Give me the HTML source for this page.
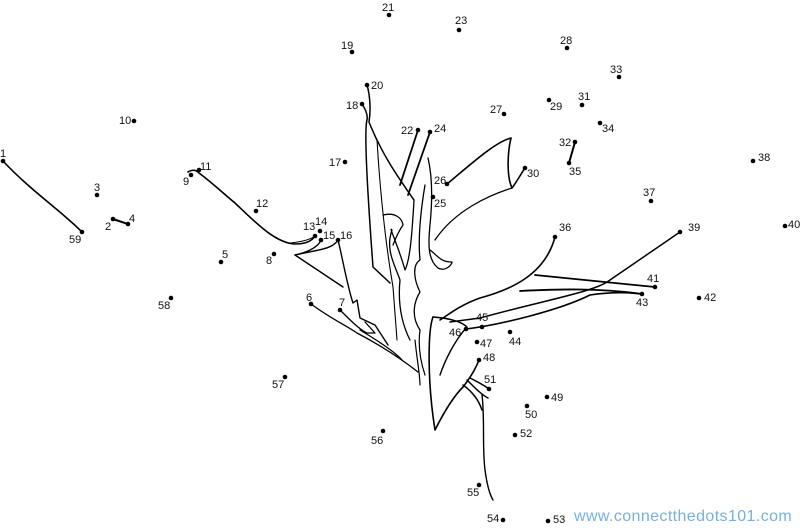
<!DOCTYPE html>
<html><head><meta charset="utf-8"><style>
html,body{margin:0;padding:0;background:#fff}
svg text{font-family:"Liberation Sans",sans-serif;font-size:11px;fill:#111}
</style></head><body>
<svg width="800" height="526" viewBox="0 0 800 526" xmlns="http://www.w3.org/2000/svg">
<g fill="none" stroke="#000" stroke-linecap="round" stroke-linejoin="round">
<path d="M3,161 C30,190 60,210 82,232" stroke-width="1.6"/>
<path d="M113,219 L128,224" stroke-width="2"/>
<path d="M575,142 L569,163" stroke-width="2"/>
<path d="M188,172 C195,168 198,172 199,173 C215,185 225,195 235,203 C255,222 275,243 295,244 C305,244 312,241 315,236" stroke-width="1.6"/>
<path d="M290,243 C300,242 310,240 315,236" stroke-width="1"/>
<path d="M295,255 C305,253 318,248 321,240" stroke-width="1.4"/>
<path d="M295,255 C315,250 332,250 338,240" stroke-width="1.4"/>
<path d="M295,255 L343,287" stroke-width="1.4"/>
<path d="M338,240 C343,260 347,285 353,303 L357,300 L360,318 L375,325 L388,345" stroke-width="1.4"/>
<path d="M311,304 C330,318 345,325 357,333 C380,345 400,358 418,372" stroke-width="1.3"/>
<path d="M340,310 C350,320 360,330 367,333 L375,333 L365,322 M360,330 C380,342 395,352 402,360" stroke-width="1.3"/>
<path d="M362,104 C366,110 368,115 367,120 C364,130 368,200 373,267 L390,283" stroke-width="1.5"/>
<path d="M367,85 C370,95 371,110 369,122 C382,155 400,180 414,200" stroke-width="1.5"/>
<path d="M377,140 C380,190 385,240 393,287 L397,340" stroke-width="1.1"/>
<path d="M418,130 L400,185 M430,132 L408,195" stroke-width="1.8"/>
<path d="M414,200 C412,235 410,260 405,270 C398,245 388,225 392,230 C385,250 395,265 400,280 C398,300 400,320 410,340" stroke-width="1.3"/>
<path d="M428,158 C432,175 433,195 430,225 C428,245 428,260 438,268 C445,272 452,265 452,262 C440,262 437,255 430,250 M425,185 C420,215 418,240 420,260 C412,265 414,280 420,292 C415,300 410,315 420,330" stroke-width="1.3"/>
<path d="M383,215 C395,212 402,218 403,225 C398,232 395,240 393,245" stroke-width="1.3"/>
<path d="M447,184 C470,165 495,142 511,138 C508,150 506,175 512,188 C518,180 522,172 525,168" stroke-width="1.6"/>
<path d="M512,188 C490,195 455,210 435,240" stroke-width="1.3"/>
<path d="M555,237 C545,275 510,290 480,298 C460,305 448,315 440,320" stroke-width="1.6"/>
<path d="M535,275 L655,287" stroke-width="1.8"/>
<path d="M520,291 C560,289 600,288 642,294" stroke-width="1.8"/>
<path d="M680,232 L610,280 C595,292 545,300 480,318 L450,322" stroke-width="1.5"/>
<path d="M466,329 C500,325 560,310 590,295 C610,292 625,292 642,294" stroke-width="1.6"/>
<path d="M433,317 C428,330 427,380 435,430 C445,410 455,395 463,387 C470,378 476,368 479,360" stroke-width="1.6"/>
<path d="M433,317 C445,318 460,320 467,327 C455,340 445,360 440,375" stroke-width="1.4"/>
<path d="M420,330 C418,345 420,360 425,375 M415,340 C417,360 420,375 420,385" stroke-width="1.2"/>
<path d="M463,385 C470,390 478,398 482,410 M467,380 C475,388 482,395 488,398 M470,378 C478,382 485,386 489,389" stroke-width="1.5"/>
<path d="M482,395 C485,420 482,445 485,470 C487,485 490,495 493,500" stroke-width="1.4"/>
</g>
<g fill="#000">
<circle cx="3" cy="161" r="2.3"/><circle cx="113" cy="219" r="2.3"/><circle cx="97" cy="195" r="2.3"/><circle cx="128" cy="224" r="2.3"/>
<circle cx="221" cy="262" r="2.3"/><circle cx="311" cy="304" r="2.3"/><circle cx="340" cy="310" r="2.3"/><circle cx="274" cy="254" r="2.3"/>
<circle cx="191" cy="175" r="2.3"/><circle cx="134" cy="121" r="2.3"/><circle cx="199" cy="170" r="2.3"/><circle cx="256" cy="211" r="2.3"/>
<circle cx="315" cy="236" r="2.3"/><circle cx="320" cy="231" r="2.3"/><circle cx="321" cy="240" r="2.3"/><circle cx="338" cy="240" r="2.3"/>
<circle cx="345" cy="162" r="2.3"/><circle cx="362" cy="104" r="2.3"/><circle cx="352" cy="52" r="2.3"/><circle cx="367" cy="85" r="2.3"/>
<circle cx="389" cy="15" r="2.3"/><circle cx="418" cy="130" r="2.3"/><circle cx="459" cy="30" r="2.3"/><circle cx="430" cy="132" r="2.3"/>
<circle cx="433" cy="197" r="2.3"/><circle cx="447" cy="184" r="2.3"/><circle cx="504" cy="114" r="2.3"/><circle cx="567" cy="48" r="2.3"/>
<circle cx="549" cy="100" r="2.3"/><circle cx="525" cy="168" r="2.3"/><circle cx="582" cy="105" r="2.3"/><circle cx="575" cy="142" r="2.3"/>
<circle cx="619" cy="77" r="2.3"/><circle cx="600" cy="123" r="2.3"/><circle cx="569" cy="163" r="2.3"/><circle cx="555" cy="237" r="2.3"/>
<circle cx="651" cy="201" r="2.3"/><circle cx="753" cy="161" r="2.3"/><circle cx="680" cy="232" r="2.3"/><circle cx="785" cy="226" r="2.3"/>
<circle cx="655" cy="287" r="2.3"/><circle cx="699" cy="298" r="2.3"/><circle cx="642" cy="294" r="2.3"/><circle cx="510" cy="332" r="2.3"/>
<circle cx="482" cy="327" r="2.3"/><circle cx="466" cy="329" r="2.3"/><circle cx="477" cy="342" r="2.3"/><circle cx="479" cy="360" r="2.3"/>
<circle cx="547" cy="397" r="2.3"/><circle cx="527" cy="406" r="2.3"/><circle cx="489" cy="389" r="2.3"/><circle cx="515" cy="435" r="2.3"/>
<circle cx="548" cy="521" r="2.3"/><circle cx="503" cy="520" r="2.3"/><circle cx="479" cy="485" r="2.3"/><circle cx="383" cy="431" r="2.3"/>
<circle cx="285" cy="377" r="2.3"/><circle cx="171" cy="298" r="2.3"/><circle cx="82" cy="232" r="2.3"/>
</g>
<g>
<text x="0" y="157">1</text><text x="105" y="230">2</text><text x="94" y="191">3</text><text x="129" y="222">4</text>
<text x="222" y="258">5</text><text x="306" y="301">6</text><text x="339" y="306">7</text><text x="266" y="264">8</text>
<text x="183" y="185">9</text><text x="119" y="124">10</text><text x="200" y="170">11</text><text x="256" y="207">12</text>
<text x="303" y="230">13</text><text x="315" y="225">14</text><text x="323" y="239">15</text><text x="340" y="239">16</text>
<text x="329" y="166">17</text><text x="346" y="109">18</text><text x="341" y="49">19</text><text x="371" y="89">20</text>
<text x="382" y="11">21</text><text x="401" y="134">22</text><text x="455" y="24">23</text><text x="434" y="132">24</text>
<text x="434" y="207">25</text><text x="434" y="184">26</text><text x="490" y="113">27</text><text x="560" y="44">28</text>
<text x="550" y="110">29</text><text x="527" y="177">30</text><text x="578" y="100">31</text><text x="559" y="146">32</text>
<text x="610" y="73">33</text><text x="602" y="132">34</text><text x="569" y="175">35</text><text x="559" y="231">36</text>
<text x="643" y="196">37</text><text x="758" y="161">38</text><text x="688" y="231">39</text><text x="788" y="228">40</text>
<text x="647" y="282">41</text><text x="704" y="301">42</text><text x="636" y="306">43</text><text x="509" y="345">44</text>
<text x="476" y="321">45</text><text x="449" y="336">46</text><text x="480" y="347">47</text><text x="483" y="361">48</text>
<text x="551" y="401">49</text><text x="525" y="418">50</text><text x="484" y="383">51</text><text x="520" y="437">52</text>
<text x="553" y="523">53</text><text x="487" y="522">54</text><text x="467" y="496">55</text><text x="371" y="444">56</text>
<text x="272" y="388">57</text><text x="158" y="309">58</text><text x="69" y="243">59</text>
</g>
<text x="574" y="521" style="font-size:16px;fill:#7ab0d8;letter-spacing:0.4px">www.connectthedots101.com</text>
</svg>
</body></html>
